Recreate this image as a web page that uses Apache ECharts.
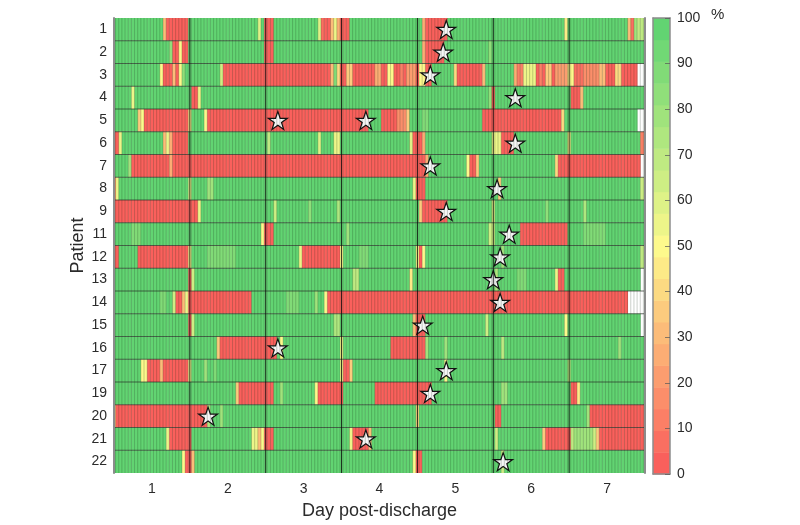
<!DOCTYPE html>
<html>
<head>
<meta charset="utf-8">
<style>html,body{margin:0;padding:0;background:#fff}#c{width:800px;height:525px}</style>
<script src="https://cdn.jsdelivr.net/npm/echarts@6/dist/echarts.min.js"></script>
</head>
<body>
<div id="c"></div>
<script>
const patients = ['1','2','3','4','5','6','7','8','9','11','12','13','14','15','16','17','19','20','21','22'];
const dayTicks = [1,2,3,4,5,6,7];
const dayEdges = [1.5,2.5,3.5,4.5,5.5,6.5];
const barTicks = [0,10,20,30,40,50,60,70,80,90,100];
const hoursPerRow = 169; // hourly samples centred on 0.5 + h/24, first and last half clipped
const baseline = 97; // adherence value outside the listed spells

// Spells: [first hour, last hour, % value]; null = no data
const p1  = [[16,16,30],[17,23,3],[46,46,60],[48,50,3],[65,65,60],[66,66,8],[67,68,3],[69,69,30],[70,70,55],[71,71,25],[72,74,3],[98,98,25],[99,105,3],[143,143,45],[163,163,30],[164,164,5],[165,165,80],[166,168,68]];
const p2  = [[18,18,82],[19,20,3],[21,21,52],[22,23,3],[48,50,3],[98,98,25],[99,104,3],[119,119,82]];
const p3  = [[15,15,50],[16,18,3],[19,19,30],[20,20,3],[21,21,52],[22,22,85],[34,34,62],[35,68,3],[69,69,30],[70,70,90],[71,71,40],[72,73,3],[74,75,35],[76,80,3],[81,82,3],[83,84,28],[85,86,3],[87,88,52],[89,90,3],[91,91,10],[92,92,3],[93,95,22],[96,96,3],[97,98,50],[99,100,3],[108,108,40],[109,116,3],[117,117,30],[127,127,25],[128,129,12],[130,133,55],[134,134,3],[135,135,12],[136,136,3],[137,138,35],[139,139,3],[140,143,20],[144,145,50],[146,148,6],[149,153,18],[154,155,30],[156,158,3],[159,160,40],[161,165,3],[166,168,null]];
const p4  = [[6,6,55],[25,26,3],[27,27,55],[119,119,82],[120,120,3],[145,147,3],[148,148,30]];
const p5  = [[8,8,35],[9,9,52],[10,23,3],[24,24,45],[29,29,52],[30,80,3],[85,89,3],[90,92,18],[93,93,38],[98,99,90],[117,141,3],[142,142,40],[166,168,null]];
const p6  = [[0,1,3],[2,2,55],[16,16,30],[17,17,55],[18,18,25],[19,23,3],[49,49,68],[65,65,58],[70,71,55],[94,94,58],[95,97,3],[98,98,25],[120,122,55],[123,126,3],[144,144,45],[167,168,12]];
const p7  = [[5,5,80],[6,17,3],[18,18,25],[19,95,3],[96,98,3],[99,99,25],[112,112,52],[113,114,3],[115,115,35],[140,140,40],[141,143,3],[144,166,3],[167,168,null]];
const p8  = [[0,0,3],[1,1,55],[24,24,55],[30,31,80],[95,95,55],[96,98,3],[122,122,35],[167,168,62]];
const p9  = [[0,26,3],[27,27,55],[51,51,65],[62,62,82],[71,71,72],[97,97,35],[98,105,3],[120,120,60],[137,137,82],[149,149,76]];
const p11 = [[6,8,90],[47,47,52],[48,50,3],[74,74,80],[119,120,62],[129,143,3],[149,155,88]];
const p12 = [[0,1,3],[8,23,3],[24,24,52],[30,38,90],[59,59,55],[60,71,3],[72,72,50],[78,80,90],[96,96,52],[97,97,3],[98,98,52],[123,123,78],[167,168,70]];
const p13 = [[24,24,3],[25,25,65],[76,77,68],[94,94,45],[121,121,72],[128,130,90],[140,140,55],[141,142,3],[167,168,null]];
const p14 = [[15,16,90],[19,19,62],[20,21,3],[22,22,30],[23,23,55],[24,43,3],[55,58,90],[64,64,78],[67,67,48],[68,162,3],[163,168,null]];
const p15 = [[24,24,3],[25,25,65],[70,71,72],[95,95,30],[96,98,3],[118,118,65],[143,143,50],[167,168,null]];
const p16 = [[33,33,35],[34,51,3],[53,53,52],[72,72,55],[88,98,3],[99,99,78],[105,105,80],[123,123,70],[160,160,78]];
const p17 = [[9,10,52],[11,14,3],[15,15,30],[16,23,3],[24,24,55],[29,29,80],[32,32,90],[72,72,55],[73,74,3],[75,75,38],[105,105,50],[144,144,70]];
const p19 = [[39,39,35],[40,50,3],[53,53,80],[64,64,52],[65,72,3],[83,100,3],[123,124,80],[145,146,3],[147,147,45]];
const p20 = [[0,0,45],[1,29,3],[30,30,75],[34,34,80],[96,96,40],[121,122,3],[150,150,80],[151,168,3]];
const p21 = [[17,17,55],[18,24,3],[44,45,55],[46,46,30],[47,47,52],[48,50,3],[75,75,55],[76,80,3],[81,81,30],[121,121,65],[136,136,35],[137,144,3],[145,145,68],[146,151,80],[152,152,62],[153,153,35],[154,168,3]];
const p22 = [[22,22,50],[23,24,3],[25,25,30],[95,95,50],[96,97,3],[123,123,62]];
const patientSpells = [p1,p2,p3,p4,p5,p6,p7,p8,p9,p11,p12,p13,p14,p15,p16,p17,p19,p20,p21,p22];

// Discharge-day stars: [day, row position in patients]
const stars = [[4.88,0],[4.84,1],[4.67,2],[5.79,3],[2.66,4],[3.82,4],[5.79,5],[4.67,6],[5.55,7],[4.88,8],[5.71,9],[5.59,10],[5.50,11],[5.59,12],[4.57,13],[2.66,14],[4.88,15],[4.67,16],[1.74,17],[3.82,18],[5.63,19]];

const palette = ['#fa605c','#fa6f61','#fb7f66','#fb8e6a','#fb9d6f','#fcad74','#fcbc79','#fccb7e','#fcda82','#fdea87','#fdf98c','#edf589','#def287','#ceee84','#bfea82','#afe77f','#a0e37c','#90df7a','#81db77','#71d875','#62d472'];

const colorOf = v => palette[Math.min(palette.length - 1, Math.floor(v / 100 * palette.length))];

const cells = [];
patientSpells.forEach((spells, row) => {
  const vals = new Array(hoursPerRow).fill(baseline);
  spells.forEach(([a, b, v]) => { for (let h = a; h <= b; h++) vals[h] = v; });
  vals.forEach((v, h) => { if (v !== null) cells.push([0.5 + (h - 0.5) / 24, row, v]); });
});
const hourEdges = [];
for (let h = 0; h < hoursPerRow - 1; h++) hourEdges.push(0.5 + (h + 0.5) / 24);
const rowEdges = patients.slice(1).map((_, i) => i + 0.5);
const barBands = palette.map((c, i) => [i * 100 / palette.length, (i + 1) * 100 / palette.length, i]);

const txt = '#2b2b2b', frame = '#8c8c8c', font = '"Liberation Sans", Arial, sans-serif';

const vLines = (data, z, color, width) => ({
  type: 'custom', data: data.map(d => [d]), z, silent: true, clip: true,
  encode: { x: 0 }, coordinateSystem: 'cartesian2d', xAxisIndex: 0, yAxisIndex: 0,
  renderItem: (p, api) => {
    const x = api.coord([api.value(0), 0])[0], cs = p.coordSys;
    return { type: 'line', shape: { x1: x, y1: cs.y, x2: x, y2: cs.y + cs.height },
      style: { stroke: color, lineWidth: width, fill: null } };
  }
});

const option = {
  animation: false,
  backgroundColor: '#fff',
  textStyle: { fontFamily: font },
  grid: [
    { left: 114, top: 18, width: 531, height: 456 },
    { left: 653, top: 18, width: 17, height: 456 }
  ],
  xAxis: [
    { type: 'value', gridIndex: 0, min: 0.5, max: 7.5, interval: 0.5, position: 'bottom', z: 10,
      name: 'Day post-discharge', nameLocation: 'middle', nameGap: 29,
      nameTextStyle: { fontSize: 18, color: txt, fontFamily: font },
      axisLine: { onZero: false, lineStyle: { color: frame, width: 2 } },
      axisTick: { inside: true, length: 4, customValues: dayTicks, lineStyle: { color: '#333', opacity: 0.6 } },
      axisLabel: { customValues: dayTicks, fontSize: 14, color: txt, margin: 9, fontFamily: font },
      splitLine: { show: false } },
    { type: 'value', gridIndex: 0, min: 0.5, max: 7.5, interval: 0.5, position: 'top', z: 10,
      axisLine: { onZero: false, lineStyle: { color: frame, width: 1.5 } },
      axisTick: { inside: true, length: 4, customValues: dayTicks, lineStyle: { color: '#333', opacity: 0.6 } },
      axisLabel: { show: false }, splitLine: { show: false } },
    { type: 'value', gridIndex: 1, min: 0, max: 1, position: 'bottom', z: 10,
      axisLine: { onZero: false, lineStyle: { color: frame, width: 1.5 } },
      axisTick: { show: false }, axisLabel: { show: false }, splitLine: { show: false } },
    { type: 'value', gridIndex: 1, min: 0, max: 1, position: 'top', z: 10,
      axisLine: { onZero: false, lineStyle: { color: frame, width: 1.5 } },
      axisTick: { show: false }, axisLabel: { show: false }, splitLine: { show: false } }
  ],
  yAxis: [
    { type: 'category', gridIndex: 0, data: patients, inverse: true, position: 'left', z: 10,
      name: 'Patient', nameLocation: 'middle', nameGap: 27, nameRotate: 90, nameMoveOverlap: false,
      nameTextStyle: { fontSize: 18, color: txt, fontFamily: font },
      axisLine: { lineStyle: { color: frame, width: 2 } },
      axisTick: { inside: true, length: 5, alignWithLabel: true, lineStyle: { color: '#222' } },
      axisLabel: { fontSize: 14, color: txt, margin: 7, interval: 0, fontFamily: font },
      splitLine: { show: false } },
    { type: 'category', gridIndex: 0, data: patients, inverse: true, position: 'right', z: 10,
      axisLine: { lineStyle: { color: frame, width: 2 } },
      axisTick: { inside: true, length: 5, alignWithLabel: true, lineStyle: { color: '#222' } },
      axisLabel: { show: false }, splitLine: { show: false } },
    { type: 'value', gridIndex: 1, min: 0, max: 100, interval: 10, position: 'right', z: 10,
      axisLine: { onZero: false, lineStyle: { color: frame, width: 1.5 } },
      axisTick: { inside: true, length: 5, lineStyle: { color: '#555', opacity: 0.7 } },
      axisLabel: { fontSize: 14, color: txt, margin: 7, fontFamily: font, customValues: barTicks },
      splitLine: { show: false } },
    { type: 'value', gridIndex: 1, min: 0, max: 100, interval: 10, position: 'left', z: 10,
      axisLine: { onZero: false, lineStyle: { color: frame, width: 1.5 } },
      axisTick: { show: false }, axisLabel: { show: false }, splitLine: { show: false } }
  ],
  series: [
    { type: 'custom', data: cells, z: 1, xAxisIndex: 0, yAxisIndex: 0, silent: true, clip: true,
      encode: { x: 0, y: 1 }, progressive: 0,
      renderItem: (p, api) => {
        const x = api.value(0), row = api.value(1), v = api.value(2);
        const a = api.coord([x, row]), w = api.size([1 / 24, 1]);
        return { type: 'rect', shape: { x: a[0], y: a[1] - w[1] / 2, width: w[0] + 0.4, height: w[1] },
          style: { fill: colorOf(v), stroke: null } };
      } },
    { type: 'scatter', data: stars, z: 2, xAxisIndex: 0, yAxisIndex: 0, silent: true,
      symbol: 'path://M50 0L61.5 35H98L68.5 56.5L79.5 91L50 70L20.5 91L31.5 56.5L2 35H38.5Z',
      symbolSize: 19, symbolKeepAspect: true,
      itemStyle: { color: '#f6f6f6', borderColor: '#111', borderWidth: 1.2, opacity: 1 } },
    vLines(hourEdges, 3, 'rgba(20,40,20,0.22)', 1),
    { type: 'custom', data: rowEdges.map(d => [d]), z: 4, xAxisIndex: 0, yAxisIndex: 0, silent: true,
      encode: { y: 0 },
      renderItem: (p, api) => {
        const cs = p.coordSys;
        const band = api.size([0, 1])[1];
        const y = cs.y + band * (api.value(0) + 0.5);
        return { type: 'line', shape: { x1: cs.x, y1: y, x2: cs.x + cs.width, y2: y },
          style: { stroke: 'rgba(40,50,40,0.7)', lineWidth: 1, fill: null } };
      } },
    vLines(dayEdges, 5, 'rgba(10,10,10,0.85)', 1),
    { type: 'custom', data: barBands, z: 1, xAxisIndex: 2, yAxisIndex: 2, silent: true,
      encode: { y: [0, 1] },
      renderItem: (p, api) => {
        const lo = api.coord([0, api.value(0)]), hi = api.coord([1, api.value(1)]);
        return { type: 'rect', shape: { x: lo[0], y: hi[1], width: hi[0] - lo[0], height: lo[1] - hi[1] + 0.5 },
          style: { fill: palette[api.value(2)], stroke: null } };
      } }
  ],
  graphic: [
    { type: 'text', left: 711, top: 7, style: { text: '%', fontSize: 15, fill: txt, fontFamily: font } }
  ]
};
echarts.init(document.getElementById('c'), null, { renderer: 'canvas' }).setOption(option);
</script>
</body>
</html>
